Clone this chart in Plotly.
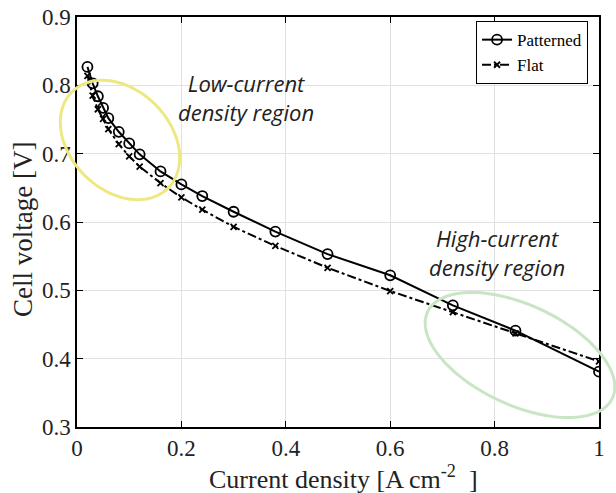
import numpy as np
import plotly.graph_objects as go

current = [0.02, 0.03, 0.04, 0.05, 0.06, 0.08, 0.10, 0.12, 0.16, 0.20, 0.24, 0.30, 0.38, 0.48, 0.60, 0.72, 0.84, 1.00]
patterned = [0.827, 0.803, 0.784, 0.767, 0.752, 0.732, 0.715, 0.699, 0.674, 0.655, 0.638, 0.615, 0.586, 0.553, 0.522, 0.478, 0.441, 0.381]
flat = [0.814, 0.785, 0.765, 0.751, 0.736, 0.714, 0.696, 0.681, 0.657, 0.636, 0.618, 0.593, 0.565, 0.533, 0.499, 0.468, 0.437, 0.396]
x_ticks = [0, 0.2, 0.4, 0.6, 0.8, 1]
x_tick_labels = ["0", "0.2", "0.4", "0.6", "0.8", "1"]
y_ticks = [0.3, 0.4, 0.5, 0.6, 0.7, 0.8, 0.9]
y_tick_labels = ["0.3", "0.4", "0.5", "0.6", "0.7", "0.8", "0.9"]
x_title = "Current density [A cm<sup>-2</sup>  ]"
y_title = "Cell voltage [V]"

W, H = 616, 493
ML, MR, MT, MB = 77, 17, 17, 66
PW, PH = W - ML - MR, H - MT - MB


def ellipse_path(cx, cy, a, b, ang_deg):
    # cx, cy in page pixels
    t = np.linspace(0, 2 * np.pi, 120)
    th = np.radians(ang_deg)
    px = cx + a * np.cos(t) * np.cos(th) - b * np.sin(t) * np.sin(th)
    py = cy + a * np.cos(t) * np.sin(th) + b * np.sin(t) * np.cos(th)
    ux = (px - ML) / PW
    uy = (H - MB - py) / PH
    pts = [f"{x:.4f},{y:.4f}" for x, y in zip(ux, uy)]
    return "M" + " L".join(pts) + " Z"


def paper_x(px):
    return (px - ML) / PW


def paper_y(py):
    return (H - MB - py) / PH


fig = go.Figure()
fig.add_trace(go.Scatter(x=current, y=patterned, name="Patterned", mode="lines+markers",
                         line=dict(color="black", width=2),
                         marker=dict(symbol="circle-open", size=10, color="black", line=dict(width=1.8))))
fig.add_trace(go.Scatter(x=current, y=flat, name="Flat", mode="lines+markers",
                         line=dict(color="black", width=2, dash="dashdot"),
                         marker=dict(symbol="x-thin-open", size=6, color="black", line=dict(width=1.8))))

fig.add_shape(type="path", xref="paper", yref="paper", path=ellipse_path(120, 140, 68, 50, 45),
              line=dict(color="rgb(238,232,130)", width=3), layer="above")
fig.add_shape(type="path", xref="paper", yref="paper", path=ellipse_path(520, 355, 102, 50, 25),
              line=dict(color="rgb(200,230,195)", width=3), layer="above")

ann_font = dict(family="Open Sans", size=22, color="#222")
fig.add_annotation(x=0.324, y=0.782, xref="x", yref="y", text="<i>Low-current<br>density region</i>",
                   showarrow=False, font=ann_font, align="center")
fig.add_annotation(x=0.805, y=0.555, xref="x", yref="y", text="<i>High-current<br>density region</i>",
                   showarrow=False, font=ann_font, align="center")

# axis titles
fig.add_annotation(x=paper_x(343), y=paper_y(477), xref="paper", yref="paper", text=x_title,
                   showarrow=False, xanchor="center", yanchor="middle",
                   font=dict(family="Liberation Serif", size=26, color="#222"))
fig.add_annotation(x=paper_x(23), y=paper_y(230), xref="paper", yref="paper", text=y_title,
                   showarrow=False, xanchor="center", yanchor="middle", textangle=-90,
                   font=dict(family="Liberation Serif", size=27, color="#222"))

axis_common = dict(showline=True, linecolor="black", linewidth=1.5, mirror="allticks",
                   ticks="inside", ticklen=6, tickcolor="black", showgrid=True,
                   gridcolor="rgb(225,225,225)", gridwidth=1, zeroline=False, automargin=False,
                   tickfont=dict(family="Liberation Serif", size=23, color="#222"))
fig.update_xaxes(range=[0, 1], tickvals=x_ticks, ticktext=x_tick_labels, **axis_common)
fig.update_yaxes(range=[0.3, 0.9], tickvals=y_ticks, ticktext=y_tick_labels, **axis_common)

fig.update_layout(width=W, height=H, margin=dict(l=ML, r=MR, t=MT, b=MB),
                  plot_bgcolor="white", paper_bgcolor="white",
                  legend=dict(x=0.979, y=0.99, xanchor="right", yanchor="top",
                              bgcolor="white", bordercolor="black", borderwidth=1,
                              font=dict(family="Liberation Serif", size=17, color="black"),
                              tracegroupgap=0, itemwidth=30))
fig.write_html("out.html", config={"displayModeBar": False},
               post_script="document.body.style.margin='0';document.body.style.overflow='hidden';")
